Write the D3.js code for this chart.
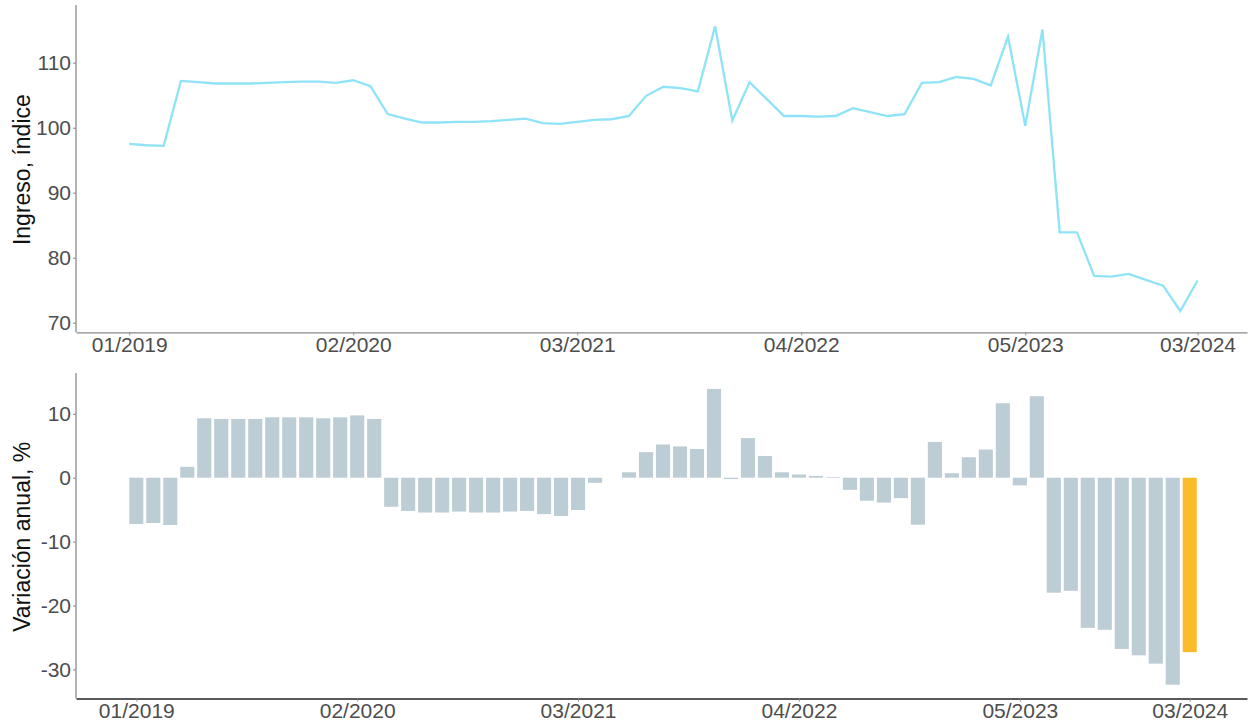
<!DOCTYPE html>
<html><head><meta charset="utf-8">
<script src="https://cdn.jsdelivr.net/npm/d3@7"></script>
<style>body{margin:0;background:#fff}svg{display:block}</style>
</head><body>
<svg id="chart" width="1251" height="728"></svg>
<script>
const months = [
 "01/2019","02/2019","03/2019","04/2019","05/2019","06/2019","07/2019","08/2019","09/2019","10/2019","11/2019","12/2019",
 "01/2020","02/2020","03/2020","04/2020","05/2020","06/2020","07/2020","08/2020","09/2020","10/2020","11/2020","12/2020",
 "01/2021","02/2021","03/2021","04/2021","05/2021","06/2021","07/2021","08/2021","09/2021","10/2021","11/2021","12/2021",
 "01/2022","02/2022","03/2022","04/2022","05/2022","06/2022","07/2022","08/2022","09/2022","10/2022","11/2022","12/2022",
 "01/2023","02/2023","03/2023","04/2023","05/2023","06/2023","07/2023","08/2023","09/2023","10/2023","11/2023","12/2023",
 "01/2024","02/2024","03/2024"];
const indexValues = [
 97.5,97.3,97.2,107.2,107.0,106.8,106.8,106.8,106.9,107.0,107.1,107.1,
 106.9,107.3,106.4,102.1,101.4,100.8,100.8,100.9,100.9,101.0,101.2,101.4,
 100.7,100.6,100.9,101.2,101.3,101.8,104.9,106.3,106.1,105.6,115.6,101.1,
 107.0,104.4,101.8,101.8,101.7,101.8,103.0,102.4,101.8,102.1,106.9,107.0,
 107.8,107.5,106.5,114.0,100.3,115.1,83.9,83.9,77.2,77.1,77.5,76.6,
 75.7,71.8,76.5];
const yoyValues = [
 -7.25,-7.1,-7.4,1.7,9.3,9.2,9.2,9.2,9.45,9.45,9.45,9.3,
 9.45,9.75,9.2,-4.55,-5.2,-5.45,-5.45,-5.3,-5.45,-5.45,-5.3,-5.2,
 -5.7,-6.0,-5.05,-0.8,0,0.85,4.0,5.2,4.9,4.5,13.9,-0.2,
 6.2,3.4,0.85,0.5,0.27,0.1,-1.9,-3.6,-3.9,-3.2,-7.35,5.6,
 0.7,3.2,4.4,11.65,-1.2,12.75,-18.0,-17.7,-23.5,-23.8,-26.8,-27.8,
 -29.1,-32.4,-27.3];
const xTickLabels = ["01/2019","02/2020","03/2021","04/2022","05/2023","03/2024"];
const topTicks = [70,80,90,100,110];
const bottomTicks = [-30,-20,-10,0,10];

const svg = d3.select("#chart");
const font = "'Liberation Sans', Arial, sans-serif";
const left = 76, right = 1247;
const xT = d3.scaleLinear().domain([-3.09, 64.87]).range([left, right]);
const xB = d3.scaleLinear().domain([-3.55, 65.37]).range([left, right]);
const stepB = xB(1) - xB(0);

// ---------- top panel ----------
const yT = d3.scaleLinear().domain([70, 80]).range([322.7, 257.7]);
const topTop = 5, topBottom = 332.3;
const gTop = svg.append("g");
const line = d3.line().x((d,i)=>xT(i)).y(d=>yT(d));
gTop.append("path").datum(indexValues).attr("d", line)
  .attr("fill","none").attr("stroke","#8fe3f7").attr("stroke-width",2.3).attr("stroke-linejoin","miter");

const tickIdx = xTickLabels.map(l => months.indexOf(l));
function xAxis(g, x, y0, axisColor) {
  const ax = d3.axisBottom(x).tickValues(tickIdx).tickFormat((d,i)=>xTickLabels[i]).tickSizeInner(3).tickSizeOuter(0).tickPadding(2);
  const a = g.append("g").attr("transform",`translate(0,${y0})`).call(ax);
  a.select(".domain").attr("stroke",axisColor).attr("stroke-width",1.3);
  a.selectAll(".tick line").attr("stroke","#888");
  a.selectAll(".tick text").attr("font-family",font).attr("font-size",21).attr("fill","#4d4d4d");
  return a;
}
function yAxis(g, scale, ticks, y1, y2, color) {
  const ax = d3.axisLeft(scale).tickValues(ticks).tickFormat(d => String(d)).tickSizeInner(3).tickSizeOuter(0).tickPadding(2);
  const a = g.append("g").attr("transform",`translate(${left},0)`).call(ax);
  a.select(".domain").remove();
  a.append("line").attr("x1",0).attr("x2",0).attr("y1",y1).attr("y2",y2).attr("stroke",color).attr("stroke-width",1.3);
  a.selectAll(".tick line").attr("stroke","#888");
  a.selectAll(".tick text").attr("font-family",font).attr("font-size",21).attr("fill","#4d4d4d");
}
xAxis(gTop, xT, topBottom, "#8a8a8a");
yAxis(gTop, yT, topTicks, topTop, topBottom, "#8a8a8a");
gTop.append("text").attr("transform",`translate(30,${(topTop+topBottom)/2+1}) rotate(-90)`)
  .attr("text-anchor","middle").attr("font-family",font).attr("font-size",23).attr("fill","#111")
  .text("Ingreso, índice");

// ---------- bottom panel ----------
const yB = d3.scaleLinear().domain([0, 10]).range([477.7, 413.8]);
const botTop = 373, botBottom = 698.5;
const gBot = svg.append("g");
const bw = stepB * 0.83;
gBot.selectAll("rect").data(yoyValues).join("rect")
  .attr("x",(d,i)=>xB(i)-bw/2)
  .attr("width",bw)
  .attr("y",d=>yB(Math.max(0,d)))
  .attr("height",d=>Math.abs(yB(d)-yB(0)))
  .attr("fill",(d,i)=> i===yoyValues.length-1 ? "#fbbc2a" : "#bdcdd5");
xAxis(gBot, xB, botBottom, "#222");
yAxis(gBot, yB, bottomTicks, botTop, botBottom, "#8a8a8a");
gBot.append("text").attr("transform",`translate(30,${(botTop+botBottom)/2+1}) rotate(-90)`)
  .attr("text-anchor","middle").attr("font-family",font).attr("font-size",23).attr("fill","#111")
  .text("Variación anual, %");
</script>
</body></html>
